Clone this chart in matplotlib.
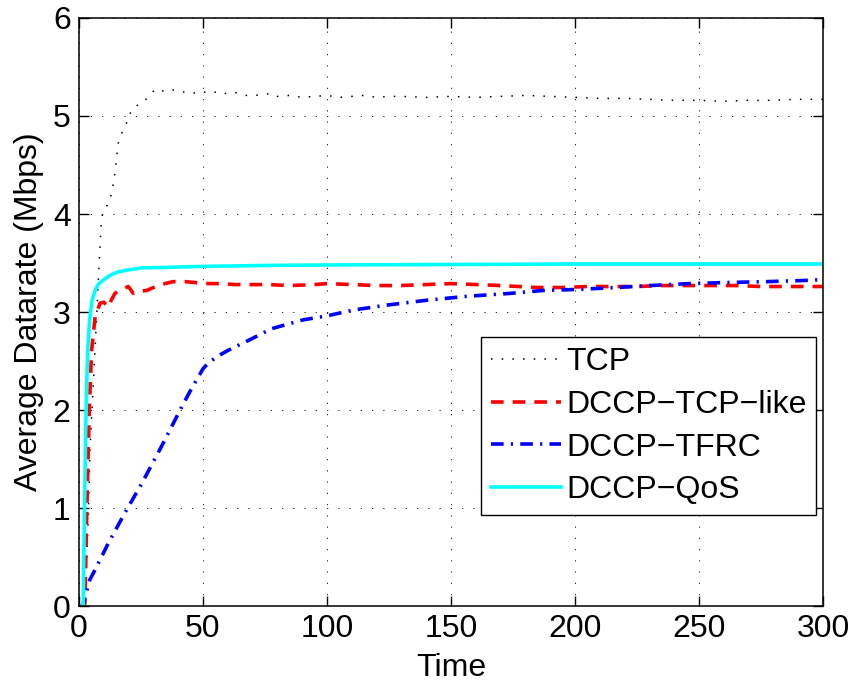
import matplotlib
matplotlib.use("Agg")
import matplotlib.pyplot as plt

plt.rcParams['font.family'] = ['Liberation Sans', 'DejaVu Sans']

# Average datarate (Mbps) over time for each transport protocol
tcp_t = [0, 2, 2.4, 3.75, 4.4, 5.8, 7.1, 7.8, 9.1, 10.5, 11.8, 13.2, 14.5, 15.8, 17.5,
         19.2, 21.2, 23, 26.6, 28.5, 30.6, 33, 36, 40, 43, 45.4, 49.5, 53, 56, 58.9,
         63, 67, 71, 74, 77.7, 80, 85, 90, 95, 100, 105, 110, 115, 120, 125, 130, 140,
         150, 160, 170, 180, 190, 200, 210, 220, 230, 240, 250, 260, 270, 280, 290, 300]
tcp_v = [0, 0, 0.03, 0.91, 1.59, 2.27, 2.95, 3.33, 3.97, 4.05, 4.11, 4.21, 4.42, 4.72, 4.84,
         4.93, 5.06, 5.10, 5.16, 5.21, 5.27, 5.25, 5.27, 5.26, 5.24, 5.23, 5.25, 5.23, 5.25, 5.23,
         5.24, 5.21, 5.21, 5.22, 5.23, 5.20, 5.21, 5.19, 5.20, 5.21, 5.19, 5.20, 5.21, 5.19, 5.20,
         5.20, 5.19, 5.20, 5.19, 5.20, 5.21, 5.20, 5.19, 5.18, 5.18, 5.17, 5.16, 5.16, 5.15, 5.16,
         5.16, 5.17, 5.17]

tcplike_t = [0, 2, 2.4, 3.1, 3.75, 4.3, 5.1, 6.5, 8.5, 10, 11.8, 13, 14.5, 17, 19.9, 21.9,
             24, 27.3, 31, 34.7, 38, 42.7, 47, 52.1, 57, 62.9, 70, 76.3, 85, 95, 100, 110,
             120, 130, 140, 150, 160, 170, 184.5, 195, 205, 215, 225, 235, 245, 255, 265,
             275, 285, 300]
tcplike_v = [0, 0, 0.03, 0.91, 1.59, 2.1, 2.61, 2.95, 3.09, 3.10, 3.05, 3.12, 3.19, 3.23, 3.26, 3.19,
             3.21, 3.22, 3.26, 3.29, 3.31, 3.31, 3.30, 3.29, 3.29, 3.28, 3.28, 3.28, 3.27, 3.28, 3.29, 3.28,
             3.27, 3.27, 3.28, 3.29, 3.28, 3.27, 3.25, 3.25, 3.26, 3.26, 3.26, 3.27, 3.27, 3.27, 3.27,
             3.26, 3.26, 3.26]

tfrc_t = [0, 1.5, 2.5, 4.4, 6.5, 11.8, 18.5, 25.3, 33.3, 41.4, 45.4, 50, 52.1, 56, 60.2,
          68.3, 77.7, 90.4, 99.9, 110.6, 124, 140.2, 156.3, 173.8, 187.2, 200.7, 216.8,
          230.2, 246.4, 259.8, 277.3, 290.7, 300]
tfrc_v = [0, 0, 0.1, 0.27, 0.37, 0.64, 0.95, 1.25, 1.63, 2.03, 2.22, 2.42, 2.48, 2.55, 2.61,
          2.71, 2.83, 2.92, 2.96, 3.02, 3.07, 3.12, 3.16, 3.19, 3.22, 3.23, 3.25,
          3.27, 3.29, 3.30, 3.31, 3.32, 3.33]

qos_t = [0, 1.7, 2.0, 2.4, 2.7, 3.1, 3.6, 4.4, 5.3, 6.5, 8, 10.5, 13, 15.8, 20, 25.3,
         35, 49.5, 75, 100, 150, 200, 250, 300]
qos_v = [0, 0, 0.6, 1.25, 1.8, 2.27, 2.65, 2.95, 3.12, 3.22, 3.29, 3.34, 3.38, 3.41, 3.43, 3.45,
         3.455, 3.465, 3.475, 3.48, 3.485, 3.49, 3.49, 3.49]

labels = ['TCP', 'DCCP\u2212TCP\u2212like', 'DCCP\u2212TFRC', 'DCCP\u2212QoS']
x_ticks = [0, 50, 100, 150, 200, 250, 300]
y_ticks = [0, 1, 2, 3, 4, 5, 6]

FS = 23

fig = plt.figure(figsize=(8.53, 6.84), dpi=100)
ax = fig.add_axes([0.0926, 0.114, 0.8722, 0.8597])

ax.plot(tcp_t, tcp_v, color='black', lw=1.1, linestyle=(0, (1, 6)), label=labels[0])
ax.plot(tcplike_t, tcplike_v, color='red', lw=2.6, linestyle=(0, (3.5, 2.5)), label=labels[1])
ax.plot(tfrc_t, tfrc_v, color='blue', lw=2.6, linestyle=(0, (3.5, 2, 0.6, 2)), label=labels[2])
ax.plot(qos_t, qos_v, color='cyan', lw=2.6, linestyle='-', label=labels[3])

ax.set_xlim(0, 300)
ax.set_ylim(0, 6)
ax.set_xticks(x_ticks)
ax.set_yticks(y_ticks)
ax.tick_params(direction='in', length=7, width=1, top=True, right=True,
               labelsize=FS, pad=6)
for s in ax.spines.values():
    s.set_linewidth(1.1)
ax.grid(True, color='black', lw=0.6, linestyle=(0, (1.5, 12)))

ax.set_xlabel('Time', fontsize=FS, labelpad=6)
ax.set_ylabel('Average Datarate (Mbps)', fontsize=FS, labelpad=6)

leg = ax.legend(loc='lower right', bbox_to_anchor=(0.9906, 0.1548), borderaxespad=0,
                fontsize=FS, fancybox=False, framealpha=1, edgecolor='black',
                handlelength=2.2, handletextpad=0.15, labelspacing=0.4, borderpad=0.3)
leg.get_frame().set_linewidth(1.0)

fig.savefig('out.png', dpi=100)
